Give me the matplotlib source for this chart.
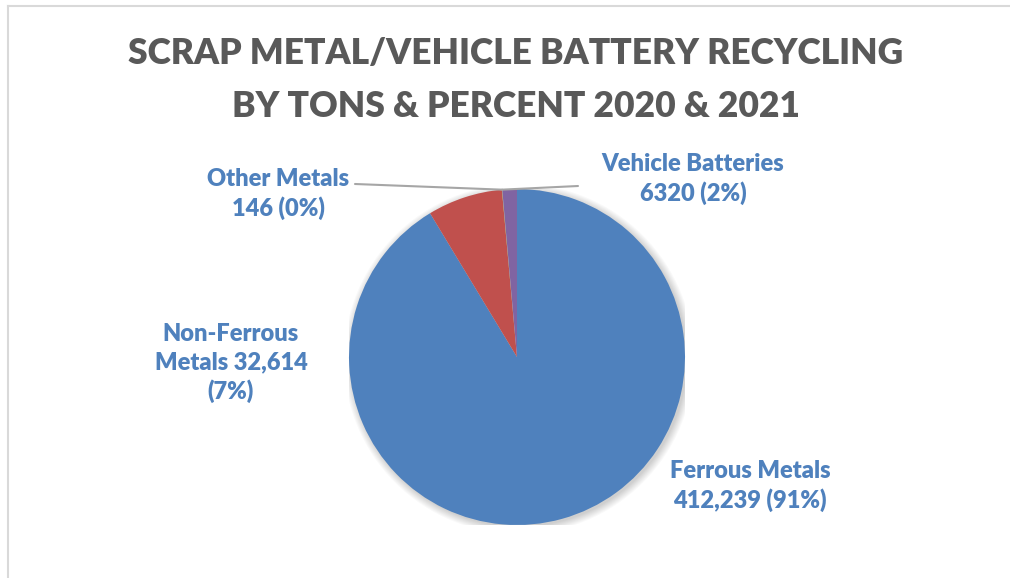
import matplotlib
matplotlib.use('Agg')
import matplotlib.pyplot as plt
from matplotlib.lines import Line2D
from matplotlib.patches import Circle
import numpy as np

# Тонны по категориям (2020 и 2021)
categories = ['Ferrous Metals', 'Non-Ferrous Metals', 'Other Metals', 'Vehicle Batteries']
tons = [412239, 32614, 146, 6320]
colors = ['#4F81BD', '#C0504D', '#9BBB59', '#8064A2']

# Подписи секторов в том виде, как они выводятся на диаграмме
labels = [
    'Ferrous Metals\n412,239 (91%)',
    'Non-Ferrous\nMetals 32,614\n(7%)',
    'Other Metals\n146 (0%)',
    'Vehicle Batteries\n6320 (2%)',
]
# Центры подписей в пикселях (от левого верхнего угла)
label_pos = [(750, 486), (231, 363), (278, 194), (693, 179)]

title = 'SCRAP METAL/VEHICLE BATTERY RECYCLING\nBY TONS & PERCENT 2020 & 2021'

W, H = 1010, 578
fig = plt.figure(figsize=(W / 100, H / 100), dpi=100)
fig.patch.set_facecolor('white')

# Круг: центр (517, 357), радиус 168 пикселей
cx, cy, r = 517, 357, 168
ax = fig.add_axes([(cx - r) / W, (H - cy - r) / H, 2 * r / W, 2 * r / H])

# мягкая тень вокруг круга
for k in range(8):
    ax.add_patch(Circle((0.012, -0.012), 1 + 0.006 * k, color='black',
                        alpha=0.025, lw=0, zorder=0))

wedges, _ = ax.pie(tons, colors=colors, startangle=90, counterclock=False,
                   radius=1, wedgeprops=dict(linewidth=0))
for w in wedges:
    w.set_zorder(2)

# pie() ставит пределы ±1.25, возвращаем ±1
ax.set_xlim(-1, 1)
ax.set_ylim(-1, 1)
ax.set_aspect('equal')
ax.axis('off')

font = 'Lato'
label_color = '#4F81BD'

fig.text(516 / W, 1 - 80 / H, title, ha='center', va='center', fontsize=25.5,
         fontweight='heavy', color='#595959', family=font, linespacing=1.75)

for lab, (px, py) in zip(labels, label_pos):
    fig.text(px / W, 1 - py / H, lab, ha='center', va='center', fontsize=17,
             fontweight='heavy', color=label_color, family=font, linespacing=1.35)

# выноски для маленьких секторов
def edge_point(angle_deg):
    a = np.deg2rad(angle_deg)
    return np.cos(a), np.sin(a)

other_w = wedges[2]
veh_w = wedges[3]
pt_other = edge_point((other_w.theta1 + other_w.theta2) / 2)
pt_veh = edge_point(veh_w.theta2)
for pt, start in [(pt_other, (355, 184)), (pt_veh, (578, 186))]:
    ax.annotate('', xy=pt, xycoords='data',
                xytext=(start[0], H - start[1]), textcoords='figure pixels',
                arrowprops=dict(arrowstyle='-', color='#A6A6A6', lw=1.5,
                                shrinkA=0, shrinkB=0),
                annotation_clip=False, zorder=3)

# рамка области диаграммы (видны верх и левая сторона)
fig.add_artist(Line2D([8 / W, 1], [1 - 6 / H, 1 - 6 / H], color='#D9D9D9', lw=1.5))
fig.add_artist(Line2D([8 / W, 8 / W], [0, 1 - 6 / H], color='#D9D9D9', lw=1.5))

fig.savefig('out.png', dpi=100, facecolor='white')
